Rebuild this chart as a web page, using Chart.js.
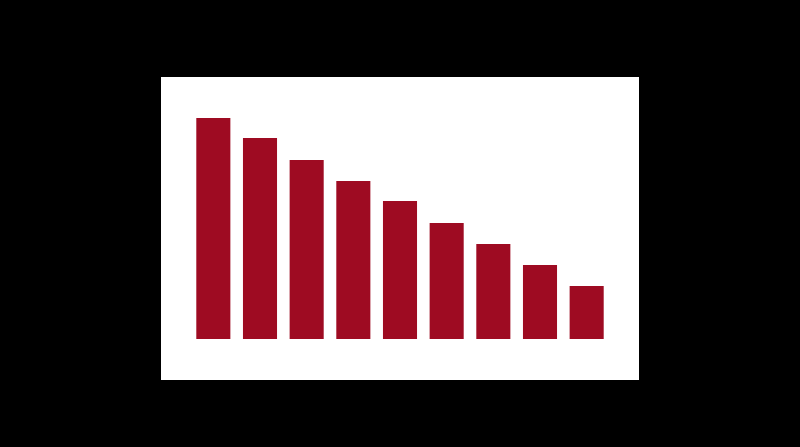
<!DOCTYPE html>
<html>
<head>
<meta charset="utf-8">
<script src="https://cdn.jsdelivr.net/npm/chart.js@4"></script>
<style>
  html, body { margin: 0; padding: 0; background: #000; width: 800px; height: 447px; overflow: hidden; }
  #panel { position: absolute; left: 161px; top: 77px; width: 478px; height: 303px; background: #fff; }
  #wrap { position: absolute; left: 29px; top: 41px; width: 420px; height: 221px; }
</style>
</head>
<body>
<div id="panel">
  <div id="wrap"><canvas id="barChart"></canvas></div>
</div>
<script>
// nine steps, each a bit lower than the one before
const categories = ['1', '2', '3', '4', '5', '6', '7', '8', '9'];
const values = [221, 201, 179, 158, 138, 116, 95, 74, 53];

new Chart(document.getElementById('barChart'), {
  type: 'bar',
  data: {
    labels: categories,
    datasets: [{
      data: values,
      backgroundColor: '#9e0b22',
      borderWidth: 0,
      barPercentage: 0.73,
      categoryPercentage: 1
    }]
  },
  options: {
    responsive: true,
    maintainAspectRatio: false,
    animation: false,
    layout: { padding: 0 },
    plugins: { legend: { display: false }, tooltip: { enabled: false } },
    scales: {
      x: { display: false },
      y: { display: false, min: 0, max: Math.max(...values) }
    }
  }
});
</script>
</body>
</html>
